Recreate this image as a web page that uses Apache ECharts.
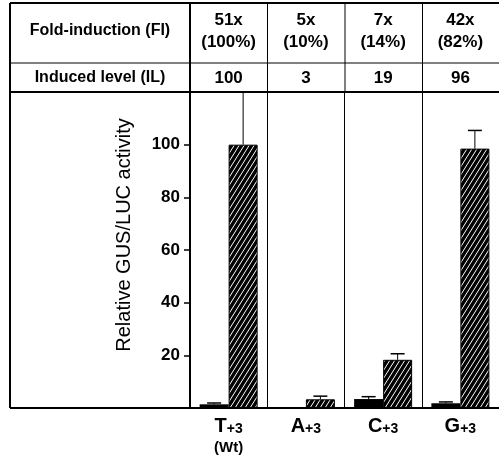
<!DOCTYPE html>
<html>
<head>
<meta charset="utf-8">
<script src="https://cdn.jsdelivr.net/npm/echarts@6/dist/echarts.min.js"></script>
<style>
html, body { margin: 0; padding: 0; background: #fff; }
#main { width: 499px; height: 460px; }
</style>
</head>
<body>
<div id="main"></div>
<script>
// 数据
var categories = ['T', 'A', 'C', 'G'];
var categorySub = ['+3', '+3', '+3', '+3'];
var categoryNote = ['(Wt)', '', '', ''];
var rowTitles = ['Fold-induction (FI)', 'Induced level (IL)'];
var foldInduction = ['51x', '5x', '7x', '42x'];
var foldPercent = ['(100%)', '(10%)', '(14%)', '(82%)'];
var inducedLevel = ['100', '3', '19', '96'];
var yTicks = [20, 40, 60, 80, 100];
var yTitle = 'Relative GUS/LUC activity';
var uninduced = [1.4, 0, 3.4, 1.8];
var uninducedErr = [0.5, 0, 0.9, 0.5];
var induced = [100, 3.3, 18.3, 98.5];
var inducedErr = [20, 1.2, 2.3, 6.9];

// 布局
var gridLeft = 190, gridTop = 92, gridBottom = 408, gridWidth = 310;
var frameLeft = 10, frameTop = 3, frameRight = 499, rowSep = 63;
var barW = 29;
var font = 'Liberation Sans';

// 斜线填充
function hatch() {
    var w = 5, h = 8;
    var c = document.createElement('canvas');
    c.width = w; c.height = h;
    var ctx = c.getContext('2d');
    ctx.fillStyle = '#000';
    ctx.fillRect(0, 0, w, h);
    ctx.strokeStyle = '#fff';
    ctx.lineWidth = 1;
    for (var k = -1; k <= 1; k++) {
        ctx.beginPath();
        ctx.moveTo(k * w, h);
        ctx.lineTo(k * w + w, 0);
        ctx.stroke();
    }
    return c;
}

// 误差线
function errorSeries(vals, errs, side) {
    var data = vals.map(function (v, i) { return [i, v, v + errs[i]]; });
    return {
        type: 'custom',
        clip: false,
        z: 5,
        data: data,
        renderItem: function (params, api) {
            if (api.value(2) <= api.value(1)) return;
            var lo = api.coord([api.value(0), api.value(1)]);
            var hi = api.coord([api.value(0), api.value(2)]);
            var x = lo[0] + side * barW / 2;
            return {
                type: 'group',
                children: [
                    {type: 'line', shape: {x1: x, y1: lo[1], x2: x, y2: hi[1]}, style: {stroke: '#000', lineWidth: 1}},
                    {type: 'line', shape: {x1: x - 7, y1: hi[1], x2: x + 7, y2: hi[1]}, style: {stroke: '#000', lineWidth: 1.5}}
                ]
            };
        }
    };
}

// 表格框线
var graphics = [];
function hline(y, x1, x2, w) {
    graphics.push({type: 'line', shape: {x1: x1, y1: y, x2: x2, y2: y}, style: {stroke: '#000', lineWidth: w}, z: 10});
}
function vline(x, y1, y2, w) {
    graphics.push({type: 'line', shape: {x1: x, y1: y1, x2: x, y2: y2}, style: {stroke: '#000', lineWidth: w}, z: 10});
}
hline(frameTop, frameLeft, frameRight, 2);
hline(rowSep, frameLeft, frameRight, 1);
hline(gridTop, frameLeft, frameRight, 2);
hline(gridBottom, frameLeft, frameRight, 2);
vline(frameLeft, frameTop, gridBottom, 2);
vline(gridLeft, frameTop, gridTop, 2);
for (var i = 1; i < categories.length; i++) {
    vline(gridLeft + i * gridWidth / categories.length, frameTop, gridTop, 1);
}
graphics.push({type: 'text', x: 100, y: 31, style: {text: rowTitles[0], font: 'bold 16px "' + font + '"', fill: '#000', align: 'center', verticalAlign: 'middle'}});
graphics.push({type: 'text', x: 100, y: 78, style: {text: rowTitles[1], font: 'bold 16px "' + font + '"', fill: '#000', align: 'center', verticalAlign: 'middle'}});
graphics.push({type: 'text', x: 124, y: 235, rotation: Math.PI / 2, style: {text: yTitle, font: '20px "' + font + '"', fill: '#000', align: 'center', verticalAlign: 'middle'}});

var chart = echarts.init(document.getElementById('main'), null, {renderer: 'canvas'});
var option = {
    animation: false,
    backgroundColor: '#fff',
    textStyle: {fontFamily: font, color: '#000'},
    grid: {left: gridLeft, top: gridTop, width: gridWidth, height: gridBottom - gridTop},
    xAxis: [{
        type: 'category',
        data: categories,
        axisLine: {lineStyle: {color: '#000', width: 2}},
        axisTick: {show: false},
        splitLine: {show: true, interval: 0, lineStyle: {color: '#000', width: 1}},
        axisLabel: {
            margin: 7,
            interval: 0,
            formatter: function (v, idx) {
                var s = '{b|' + v + '}{s|' + categorySub[idx] + '}';
                if (categoryNote[idx]) s += '\n{w|' + categoryNote[idx] + '}';
                return s;
            },
            rich: {
                b: {fontSize: 20, fontWeight: 'bold', lineHeight: 21, verticalAlign: 'bottom', fontFamily: font, color: '#000'},
                s: {fontSize: 14, fontWeight: 'bold', lineHeight: 21, verticalAlign: 'bottom', fontFamily: font, color: '#000'},
                w: {fontSize: 15, fontWeight: 'bold', lineHeight: 24, fontFamily: font, color: '#000'}
            }
        }
    }, {
        type: 'category',
        data: inducedLevel,
        position: 'top',
        offset: gridTop - 78,
        axisLine: {show: false},
        axisTick: {show: false},
        axisLabel: {margin: 0, interval: 0, verticalAlign: 'middle', fontSize: 17, fontWeight: 'bold', color: '#000'}
    }, {
        type: 'category',
        data: foldInduction.map(function (v, i) { return v + '\n' + foldPercent[i]; }),
        position: 'top',
        offset: gridTop - 31,
        axisLine: {show: false},
        axisTick: {show: false},
        axisLabel: {margin: 0, interval: 0, verticalAlign: 'middle', fontSize: 17, fontWeight: 'bold', lineHeight: 22, color: '#000'}
    }],
    yAxis: {
        type: 'value',
        min: 0,
        max: 120,
        interval: 20,
        axisLine: {show: true, lineStyle: {color: '#000', width: 2}},
        axisTick: {show: true, length: 6, customValues: yTicks, lineStyle: {color: '#000', width: 1.5}},
        axisLabel: {margin: 10, customValues: yTicks, fontSize: 17, fontWeight: 'bold', color: '#000'},
        splitLine: {show: false}
    },
    series: [{
        type: 'bar',
        data: uninduced,
        barWidth: barW,
        barGap: '0%',
        itemStyle: {color: '#000'}
    }, {
        type: 'bar',
        data: induced,
        barWidth: barW,
        barGap: '0%',
        itemStyle: {color: {image: hatch(), repeat: 'repeat'}, borderColor: '#000', borderWidth: 1}
    },
        errorSeries(uninduced, uninducedErr, -1),
        errorSeries(induced, inducedErr, 1)
    ],
    graphic: graphics
};
chart.setOption(option);
</script>
</body>
</html>
